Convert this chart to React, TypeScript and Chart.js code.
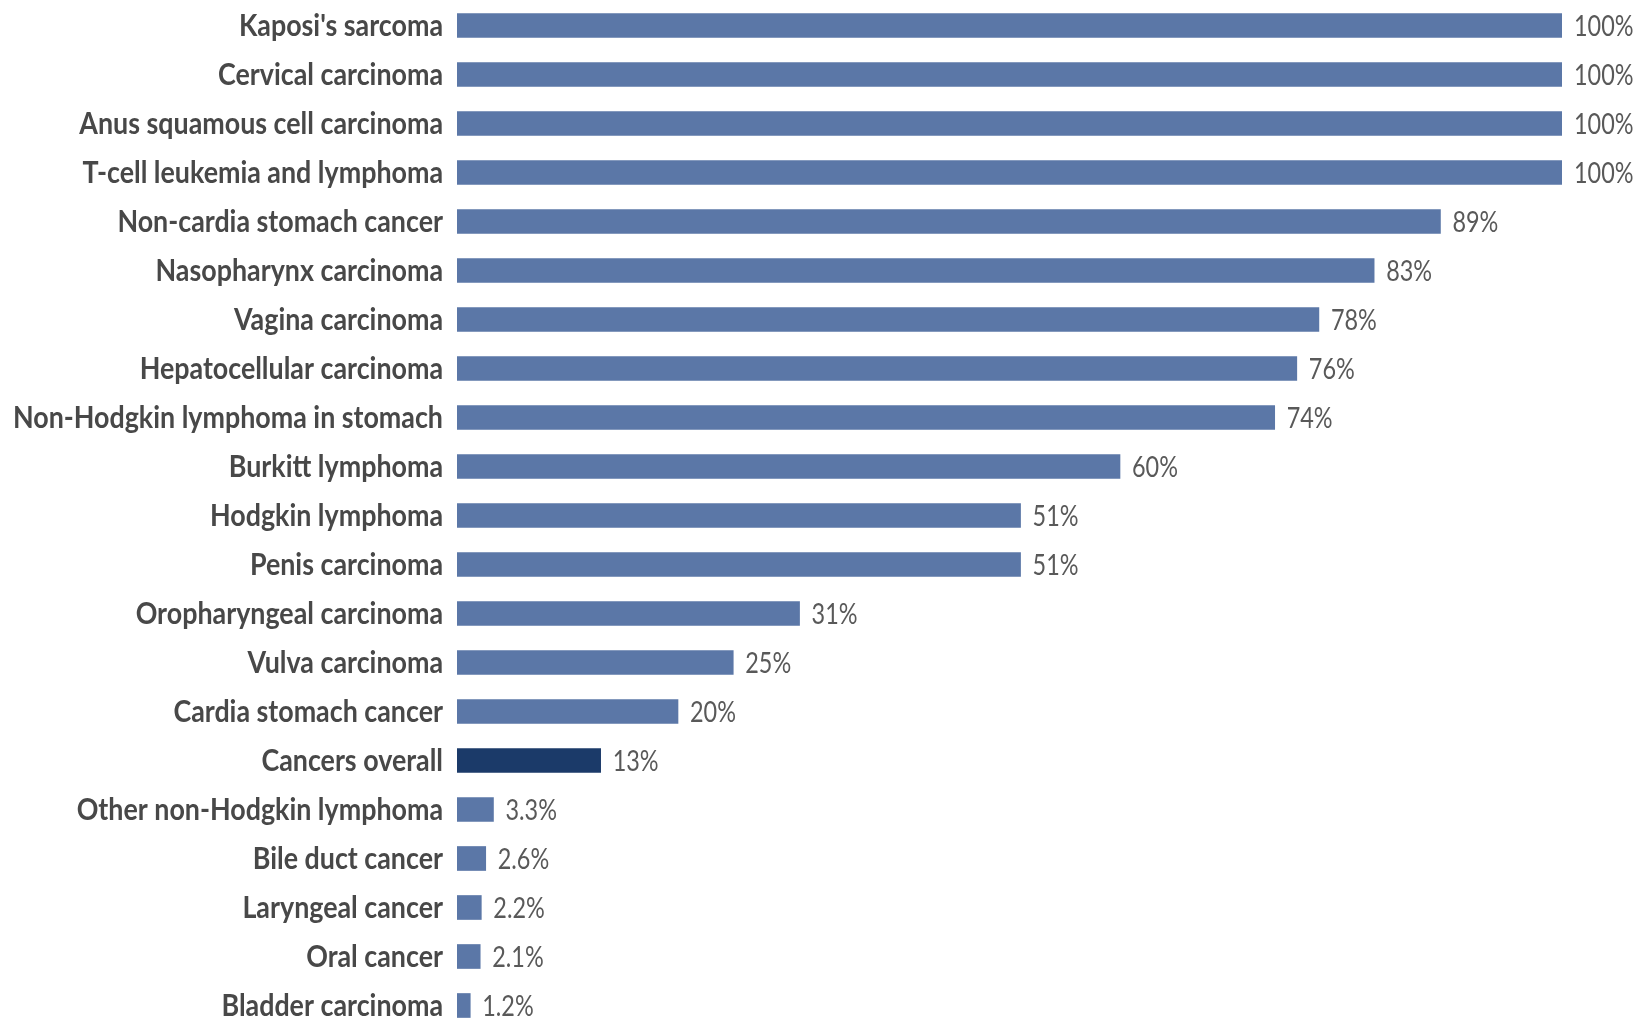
import React, { useEffect, useRef } from "react";
import { Chart, registerables } from "chart.js";

Chart.register(...registerables);

const categories = [
  "Kaposi's sarcoma",
  "Cervical carcinoma",
  "Anus squamous cell carcinoma",
  "T-cell leukemia and lymphoma",
  "Non-cardia stomach cancer",
  "Nasopharynx carcinoma",
  "Vagina carcinoma",
  "Hepatocellular carcinoma",
  "Non-Hodgkin lymphoma in stomach",
  "Burkitt lymphoma",
  "Hodgkin lymphoma",
  "Penis carcinoma",
  "Oropharyngeal carcinoma",
  "Vulva carcinoma",
  "Cardia stomach cancer",
  "Cancers overall",
  "Other non-Hodgkin lymphoma",
  "Bile duct cancer",
  "Laryngeal cancer",
  "Oral cancer",
  "Bladder carcinoma",
];

const values = [100, 100, 100, 100, 89, 83, 78, 76, 74, 60, 51, 51, 31, 25, 20, 13, 3.3, 2.6, 2.2, 2.1, 1.2];

const valueLabels = ["100%", "100%", "100%", "100%", "89%", "83%", "78%", "76%", "74%", "60%", "51%", "51%", "31%", "25%", "20%", "13%", "3.3%", "2.6%", "2.2%", "2.1%", "1.2%"];

const highlight = "Cancers overall";

const BAR = "#5b77a7";
const BAR_DARK = "#1b3a69";

const CAT_FONT = "bold 30px Lato";
const VAL_FONT = "29px Lato";

const labelPlugin = {
  id: "customLabels",
  afterDatasetsDraw(chart: any) {
    const ctx = chart.ctx;
    const yScale = chart.scales.y;
    const meta = chart.getDatasetMeta(0);
    ctx.save();
    // category labels (horizontally condensed like the reference)
    ctx.font = CAT_FONT;
    const catRef = ctx.measureText("Non-Hodgkin lymphoma in stomach").width;
    const sxCat = 430 / catRef;
    ctx.fillStyle = "#484848";
    ctx.textAlign = "right";
    ctx.textBaseline = "alphabetic";
    const rightX = yScale.right - 14;
    categories.forEach((c, i) => {
      const y = yScale.getPixelForValue(i);
      ctx.save();
      ctx.translate(rightX, y + 10.5);
      ctx.scale(sxCat, 1);
      ctx.fillText(c, 0, 0);
      ctx.restore();
    });
    // value labels
    ctx.font = VAL_FONT;
    const valRef = ctx.measureText("100%").width;
    const sxVal = 59.5 / valRef;
    ctx.fillStyle = "#595959";
    ctx.textAlign = "left";
    meta.data.forEach((bar: any, i: number) => {
      ctx.save();
      ctx.translate(bar.x + 12, bar.y + 10.5);
      ctx.scale(sxVal, 1);
      ctx.fillText(valueLabels[i], 0, 0);
      ctx.restore();
    });
    ctx.restore();
  },
};

export default function App() {
  const ref = useRef<HTMLCanvasElement | null>(null);

  useEffect(() => {
    if (!ref.current) return;
    const chart = new Chart(ref.current, {
      type: "bar",
      data: {
        labels: categories,
        datasets: [
          {
            data: values,
            backgroundColor: categories.map((c) => (c === highlight ? BAR_DARK : BAR)),
            borderWidth: 0,
            barThickness: 24,
          },
        ],
      },
      options: {
        indexAxis: "y",
        animation: false,
        responsive: false,
        maintainAspectRatio: false,
        layout: { padding: { left: 0, right: 77, top: 1, bottom: 0 } },
        plugins: {
          legend: { display: false },
          tooltip: { enabled: false },
        },
        scales: {
          x: {
            display: false,
            min: 0,
            max: 100,
          },
          y: {
            grid: { display: false, drawTicks: false },
            border: { display: false },
            afterFit: (scale: any) => {
              scale.width = 457;
            },
            ticks: {
              display: false,
              autoSkip: false,
            },
          },
        },
      },
      plugins: [labelPlugin],
    });
    return () => chart.destroy();
  }, []);

  return (
    <div
      style={{
        position: "fixed",
        left: 0,
        top: 0,
        width: 1639,
        height: 1018,
        overflow: "hidden",
        background: "#ffffff",
      }}
    >
      <canvas ref={ref} width={1639} height={1030} style={{ display: "block" }} />
    </div>
  );
}
